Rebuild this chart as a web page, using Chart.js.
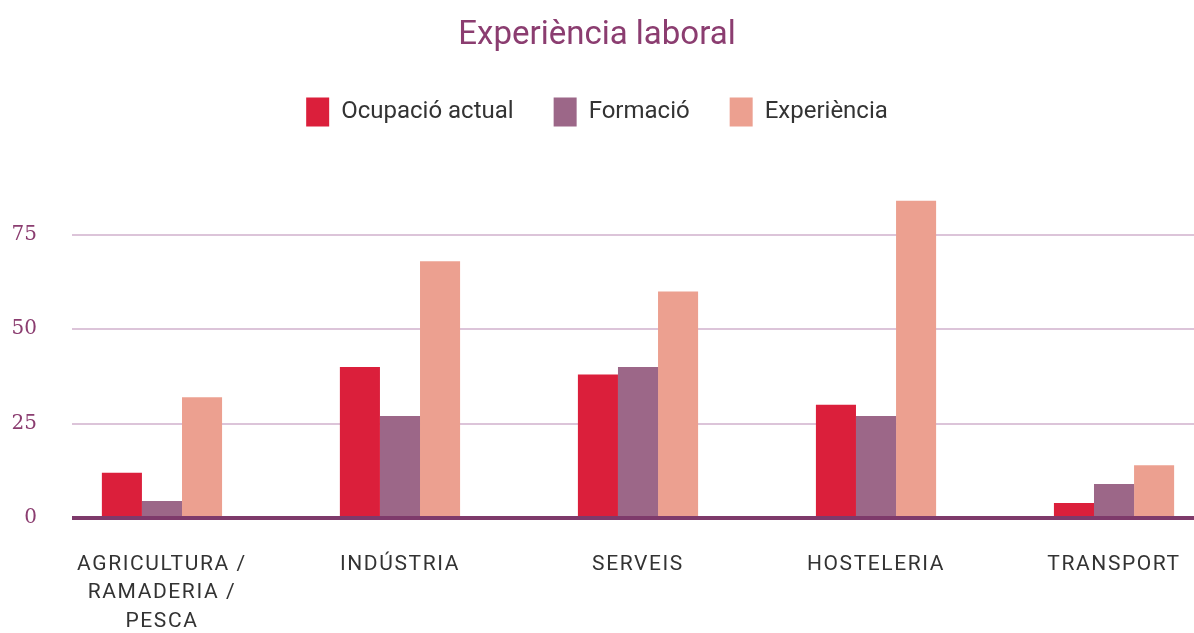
<!DOCTYPE html>
<html>
<head>
<meta charset="utf-8">
<script src="https://cdn.jsdelivr.net/npm/chart.js@4"></script>
<style>
  html, body { margin: 0; padding: 0; background: #fff; overflow: hidden; }
  #wrap { width: 1194px; height: 633px; }
</style>
</head>
<body>
<div id="wrap"><canvas id="chart"></canvas></div>
<script>
// --- Data ---
const categories = [
  ['AGRICULTURA /', 'RAMADERIA /', 'PESCA'],
  'INDÚSTRIA',
  'SERVEIS',
  'HOSTELERIA',
  'TRANSPORT'
];
const ocupacio = [12, 40, 38, 30, 4];
const formacio = [4.5, 27, 40, 27, 9];
const experiencia = [32, 68, 60, 84, 14];
const yTicks = [0, 25, 50, 75];

const toPoints = arr => arr.map((v, i) => ({ x: i, y: v }));

// wider tracking on the category labels only
const xLabelSpacing = {
  id: 'xLabelSpacing',
  afterLayout(chart) {
    const s = chart.scales.x;
    if (s._spaced) return;
    const orig = s.drawLabels.bind(s);
    s.drawLabels = area => {
      chart.ctx.save();
      chart.ctx.letterSpacing = '1.6px';
      orig(area);
      chart.ctx.restore();
    };
    s._spaced = true;
  }
};

// --- Chart ---
const ctx = document.getElementById('chart').getContext('2d');

new Chart(ctx, {
  type: 'bar',
  data: {
    datasets: [
      { label: 'Ocupació actual', data: toPoints(ocupacio), backgroundColor: '#db1f3b' },
      { label: 'Formació', data: toPoints(formacio), backgroundColor: '#9c6788' },
      { label: 'Experiència', data: toPoints(experiencia), backgroundColor: '#eca090' }
    ]
  },
  plugins: [xLabelSpacing],
  options: {
    responsive: true,
    maintainAspectRatio: false,
    animation: false,
    datasets: { bar: { categoryPercentage: 0.505, barPercentage: 1 } },
    plugins: {
      title: {
        display: true,
        text: 'Experiència laboral',
        color: '#8b3d70',
        font: { family: 'Roboto', size: 33, weight: 'normal' },
        padding: { top: 16, bottom: 2 }
      },
      legend: {
        display: true,
        labels: {
          boxWidth: 23,
          boxHeight: 29,
          color: '#333333',
          font: { family: 'Roboto', size: 24 },
          padding: 40
        }
      },
      tooltip: { enabled: false }
    },
    scales: {
      x: {
        type: 'linear',
        offset: false,
        min: -0.378,
        max: 4.336,
        afterBuildTicks: s => { s.ticks = categories.map((_, i) => ({ value: i })); },
        afterFit: s => { s.height = 115; s.paddingLeft = 0; s.paddingRight = 0; },
        grid: { display: false },
        border: { display: false },
        ticks: {
          color: '#333333',
          font: { family: 'Roboto', size: 21, lineHeight: 1.36 },
          padding: 24,
          maxRotation: 0,
          autoSkip: false,
          callback: v => categories[v]
        }
      },
      y: {
        min: 0,
        max: 101,
        afterBuildTicks: s => { s.ticks = yTicks.map(v => ({ value: v })); },
        afterFit: s => { s.width = 72; },
        border: { display: false },
        grid: {
          drawTicks: false,
          color: c => c.tick.value === 0 ? '#7e3a6b' : '#dcc4d9',
          lineWidth: c => c.tick.value === 0 ? 4 : 2
        },
        ticks: {
          color: '#8b3d70',
          font: { family: 'DejaVu Serif', size: 20 },
          padding: 35
        }
      }
    }
  }
});
</script>
</body>
</html>
